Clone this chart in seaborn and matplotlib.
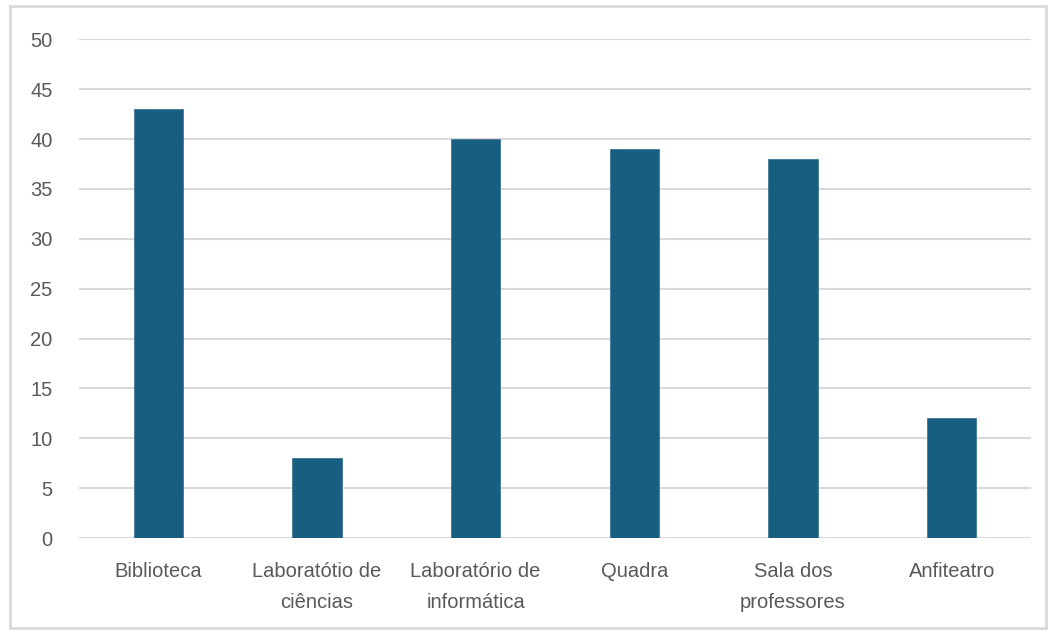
import matplotlib
matplotlib.use("Agg")
import matplotlib.pyplot as plt
from matplotlib.patches import Rectangle
from matplotlib import font_manager
import seaborn as sns
import pandas as pd

categories = ["Biblioteca", "Laboratótio de\nciências", "Laboratório de\ninformática",
              "Quadra", "Sala dos\nprofessores", "Anfiteatro"]
values = [43, 8, 40, 39, 38, 12]
y_ticks = [0, 5, 10, 15, 20, 25, 30, 35, 40, 45, 50]

sns.set_theme(style="white")
names = {f.name for f in font_manager.fontManager.ttflist}
family = "Liberation Sans Narrow" if "Liberation Sans Narrow" in names else "Liberation Sans"
plt.rcParams["font.family"] = [family, "DejaVu Sans"]

text_color = "#595959"
bar_color = "#175e80"

fig = plt.figure(figsize=(10.57, 6.33), dpi=100)
ax = fig.add_axes([0.0747, 0.150, 0.9007, 0.788])

df = pd.DataFrame({"categoria": categories, "valor": values})
sns.barplot(data=df, x="categoria", y="valor", color=bar_color, width=0.31,
            saturation=1, ax=ax, zorder=3, edgecolor="#3f7896", linewidth=0.6)

ax.set_ylim(0, 50)
ax.set_yticks(y_ticks)
ax.set_xlim(-0.5, len(categories) - 0.5)
ax.yaxis.grid(True, color="#d9d9d9", linewidth=1.5, zorder=0)
ax.xaxis.grid(False)
ax.set_axisbelow(True)
for s in ax.spines.values():
    s.set_visible(False)
ax.set_xlabel("")
ax.set_ylabel("")
ax.tick_params(axis="y", length=0, pad=19, labelsize=14.5, labelcolor=text_color)
ax.tick_params(axis="x", length=0, pad=17, labelsize=14.5, labelcolor=text_color)
for lbl in ax.get_xticklabels():
    lbl.set_linespacing(1.8)

fig.patches.append(Rectangle((0.009, 0.008), 0.981, 0.982, transform=fig.transFigure,
                             fill=False, edgecolor="#d9d9d9", linewidth=2))

fig.savefig("out.png", dpi=100)
